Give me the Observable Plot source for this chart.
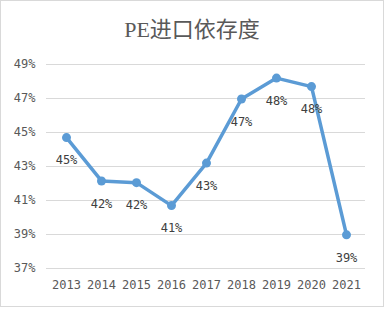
<!DOCTYPE html>
<html><head><meta charset="utf-8">
<script src="https://cdn.jsdelivr.net/npm/d3@7"></script>
<script src="https://cdn.jsdelivr.net/npm/@observablehq/plot@0.6"></script>
<style>
html,body{margin:0;padding:0;background:#fff;}
#box{width:382px;height:305px;border:1px solid #d9d9d9;position:relative;overflow:hidden;}
#title{height:50px;line-height:58px;text-align:center;font-family:"Liberation Serif","Noto Sans CJK SC",serif;font-size:22px;color:#595959;}
</style></head>
<body>
<div id="box"><div id="title">PE进口依存度</div><div id="chart"></div></div>
<script>
const years = ["2013","2014","2015","2016","2017","2018","2019","2020","2021"];
const values = [44.7, 42.15, 42.05, 40.7, 43.2, 46.97, 48.2, 47.7, 38.98];
const yTicks = [37, 39, 41, 43, 45, 47, 49];
const data = years.map((y, i) => ({year: y, value: values[i]}));
const font = "DejaVu Sans Mono, monospace";
const chart = Plot.plot({
  width: 382, height: 255,
  marginLeft: 45, marginRight: 18, marginTop: 13, marginBottom: 38,
  style: {fontFamily: font, fontSize: "12px", color: "#595959", background: "#fff"},
  x: {type: "point", domain: years, padding: 0.5, label: null, tickSize: 0, tickPadding: 12},
  y: {domain: [37, 49], ticks: yTicks, tickFormat: d => d + "%", label: null, tickSize: 0, tickPadding: 11},
  marks: [
    Plot.gridY(yTicks, {stroke: "#d9d9d9", strokeOpacity: 1, strokeWidth: 1}),
    Plot.line(data, {x: "year", y: "value", stroke: "#5b9bd5", strokeWidth: 3.5}),
    Plot.dot(data, {x: "year", y: "value", r: 4.5, fill: "#5b9bd5", stroke: "none"}),
    Plot.text(data, {x: "year", y: "value", text: d => Math.round(d.value) + "%", dy: 23, fill: "#404040", fontSize: 12, fontFamily: font})
  ]
});
document.getElementById("chart").appendChild(chart);
</script>
</body></html>
